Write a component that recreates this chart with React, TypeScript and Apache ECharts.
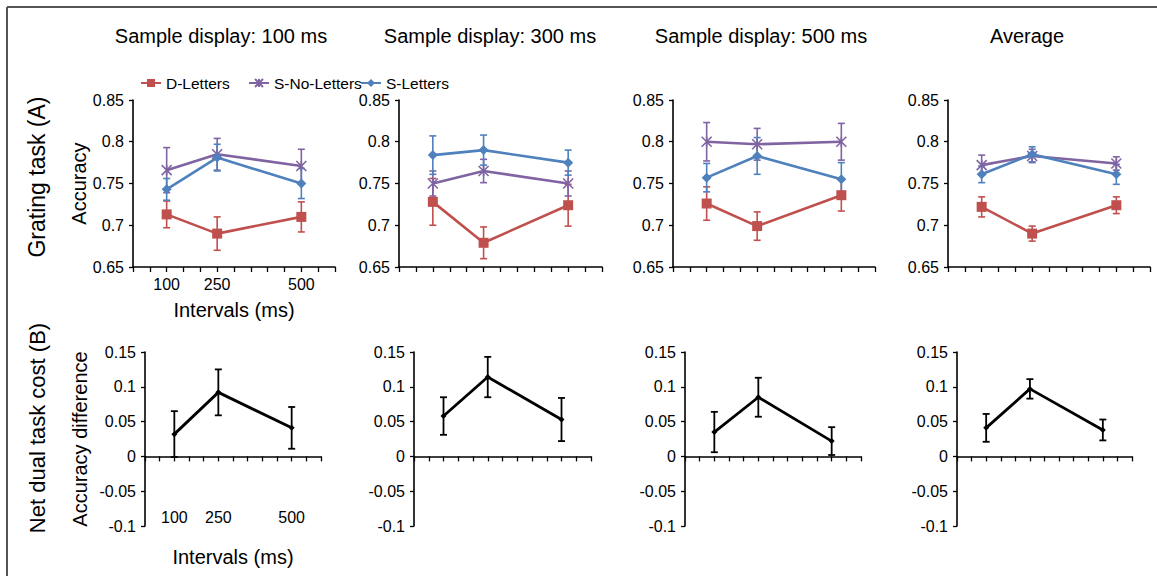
import React, { useEffect, useRef } from "react";
import * as echarts from "echarts";

const FONT = '"Liberation Sans", Arial, sans-serif';

// ---- data ----
const intervals = [100, 250, 500];
const panelTitles = ["Sample display: 100 ms", "Sample display: 300 ms", "Sample display: 500 ms", "Average"];
const seriesNames = ["D-Letters", "S-No-Letters", "S-Letters"];

// Grating task (A): accuracy means and errors per panel
const dLettersMean = [
  [0.713, 0.690, 0.710],
  [0.728, 0.679, 0.724],
  [0.726, 0.699, 0.736],
  [0.722, 0.690, 0.724],
];
const dLettersErr = [
  [0.016, 0.020, 0.018],
  [0.028, 0.019, 0.025],
  [0.020, 0.017, 0.019],
  [0.012, 0.009, 0.010],
];
const sNoLettersMean = [
  [0.766, 0.785, 0.771],
  [0.750, 0.765, 0.750],
  [0.800, 0.797, 0.800],
  [0.772, 0.783, 0.774],
];
const sNoLettersErr = [
  [0.027, 0.019, 0.020],
  [0.015, 0.014, 0.015],
  [0.023, 0.019, 0.022],
  [0.012, 0.008, 0.008],
];
const sLettersMean = [
  [0.743, 0.781, 0.750],
  [0.784, 0.790, 0.775],
  [0.757, 0.783, 0.755],
  [0.761, 0.785, 0.761],
];
const sLettersErr = [
  [0.013, 0.016, 0.018],
  [0.023, 0.018, 0.015],
  [0.017, 0.022, 0.020],
  [0.010, 0.009, 0.012],
];

// Net dual task cost (B): accuracy difference
const costMean = [
  [0.032, 0.092, 0.041],
  [0.058, 0.114, 0.053],
  [0.035, 0.085, 0.022],
  [0.041, 0.097, 0.038],
];
const costErr = [
  [0.033, 0.033, 0.030],
  [0.027, 0.029, 0.031],
  [0.029, 0.028, 0.020],
  [0.020, 0.014, 0.015],
];

const topYRange = [0.65, 0.85];
const botYRange = [-0.1, 0.15];
const yStep = 0.05;
const xRange = [0, 600];
const xStep = 50;

const RED = "#C0504D";
const PURPLE = "#8064A2";
const BLUE = "#4F81BD";
const BLACK = "#000000";

const STAR = "path://M0,0L10,10M10,0L0,10M5,0L5,10";

function errSeries(name: string, xi: number, means: number[], errs: number[], color: string, lw: number) {
  return {
    type: "custom",
    name,
    xAxisIndex: xi,
    yAxisIndex: xi,
    silent: true,
    z: 2,
    data: intervals.map((x, i) => [x, means[i] - errs[i], means[i] + errs[i]]),
    encode: { x: 0, y: [1, 2] },
    renderItem: (params: any, api: any) => {
      const x = api.value(0);
      const lo = api.coord([x, api.value(1)]);
      const hi = api.coord([x, api.value(2)]);
      const w = 3.5;
      const style = { stroke: color, lineWidth: lw };
      return {
        type: "group",
        children: [
          { type: "line", shape: { x1: lo[0], y1: lo[1], x2: hi[0], y2: hi[1] }, style },
          { type: "line", shape: { x1: lo[0] - w, y1: lo[1], x2: lo[0] + w, y2: lo[1] }, style },
          { type: "line", shape: { x1: hi[0] - w, y1: hi[1], x2: hi[0] + w, y2: hi[1] }, style },
        ],
      };
    },
  };
}

function lineSeries(name: string, xi: number, means: number[], color: string, symbol: string, size: number, width: number) {
  return {
    type: "line",
    name,
    xAxisIndex: xi,
    yAxisIndex: xi,
    z: 3,
    data: intervals.map((x, i) => [x, means[i]]),
    symbol,
    symbolSize: size,
    showSymbol: true,
    lineStyle: { color, width },
    itemStyle: { color, borderColor: color, borderWidth: symbol === STAR ? 1.6 : 0 },
    emphasis: { disabled: true },
  };
}

export default function App() {
  const ref = useRef<HTMLDivElement>(null);

  useEffect(() => {
    if (!ref.current) return;
    const chart = echarts.init(ref.current, undefined, { renderer: "svg" });

    const topGrids = [
      { left: 133, width: 202 },
      { left: 399, width: 203 },
      { left: 673, width: 202 },
      { left: 948, width: 202 },
    ];
    const botGrids = [
      { left: 145, width: 176 },
      { left: 414, width: 177 },
      { left: 685, width: 176 },
      { left: 957, width: 175 },
    ];
    const titleX = [221, 490, 761, 1027];

    const grid: any[] = [];
    const xAxis: any[] = [];
    const yAxis: any[] = [];
    const series: any[] = [];

    const axisLine = { show: true, onZero: true, lineStyle: { color: "#000", width: 1.6 } };
    const axisTick = { show: true, length: 5, lineStyle: { color: "#000", width: 1.3 } };
    const labelFmt = (v: number) => (intervals.includes(Math.round(v)) ? String(Math.round(v)) : "");

    for (let p = 0; p < 8; p++) {
      const isTop = p < 4;
      const col = p % 4;
      const g = isTop ? topGrids[col] : botGrids[col];
      grid.push({
        left: g.left,
        width: g.width,
        top: isTop ? 100 : 352,
        height: isTop ? 167 : 174,
        containLabel: false,
        outerBoundsMode: "none",
      });
      xAxis.push({
        type: "value",
        gridIndex: p,
        min: xRange[0],
        max: xRange[1],
        interval: xStep,
        axisLine,
        axisTick,
        splitLine: { show: false },
        axisLabel: {
          show: col === 0,
          formatter: labelFmt,
          fontSize: 16,
          color: "#000",
          fontFamily: FONT,
          margin: isTop ? 9 : -17,
          showMinLabel: true,
          showMaxLabel: true,
        },
        name: col === 0 ? "Intervals (ms)" : "",
        nameLocation: "middle",
        nameGap: isTop ? 33 : 21,
        nameTextStyle: { fontSize: 20, color: "#000", fontFamily: FONT },
      });
      const yr = isTop ? topYRange : botYRange;
      yAxis.push({
        type: "value",
        gridIndex: p,
        min: yr[0],
        max: yr[1],
        interval: yStep,
        axisLine: { show: true, lineStyle: { color: "#000", width: 1.6 } },
        axisTick: { show: true, length: 4, lineStyle: { color: "#000", width: 1.3 } },
        splitLine: { show: false },
        axisLabel: { fontSize: 16, color: "#000", fontFamily: FONT, margin: 9 },
        name: col === 0 ? (isTop ? "Accuracy" : "Accuracy difference") : "",
        nameLocation: "middle",
        nameRotate: 90,
        nameGap: isTop ? 43 : 55,
        nameTextStyle: { fontSize: 20, color: "#000", fontFamily: FONT },
      });

      if (isTop) {
        series.push(errSeries("err-d-" + col, p, dLettersMean[col], dLettersErr[col], RED, 1.6));
        series.push(errSeries("err-snl-" + col, p, sNoLettersMean[col], sNoLettersErr[col], PURPLE, 1.6));
        series.push(errSeries("err-sl-" + col, p, sLettersMean[col], sLettersErr[col], BLUE, 1.6));
        series.push(lineSeries(seriesNames[0], p, dLettersMean[col], RED, "rect", 10, 2.6));
        series.push(lineSeries(seriesNames[1], p, sNoLettersMean[col], PURPLE, STAR, 10, 2.6));
        series.push(lineSeries(seriesNames[2], p, sLettersMean[col], BLUE, "diamond", 10, 2.6));
      } else {
        series.push(errSeries("err-cost-" + col, p, costMean[col], costErr[col], BLACK, 1.8));
        series.push(lineSeries("Net cost " + col, p, costMean[col], BLACK, "diamond", 6, 2.8));
      }
    }

    const legendBase = {
      top: 75,
      padding: 0,
      itemWidth: 20,
      itemHeight: 10,
      textStyle: { fontSize: 15.5, color: "#000", fontFamily: FONT },
      selectedMode: false,
    };

    const graphic: any[] = [
      { type: "line", shape: { x1: 7, y1: 7, x2: 1157, y2: 7 }, style: { stroke: "#555", lineWidth: 2 } },
      { type: "line", shape: { x1: 7, y1: 7, x2: 7, y2: 576 }, style: { stroke: "#555", lineWidth: 2 } },
      ...panelTitles.map((t, i) => ({
        type: "text",
        x: titleX[i],
        y: 36,
        style: { text: t, align: "center", verticalAlign: "middle", fontSize: 20, fill: "#000", fontFamily: FONT },
      })),
      {
        type: "text",
        x: 37,
        y: 177,
        rotation: Math.PI / 2,
        style: { text: "Grating task (A)", align: "center", verticalAlign: "middle", fontSize: 23, fill: "#000", fontFamily: FONT },
      },
      {
        type: "text",
        x: 37,
        y: 428,
        rotation: Math.PI / 2,
        style: { text: "Net dual task cost (B)", align: "center", verticalAlign: "middle", fontSize: 22, fill: "#000", fontFamily: FONT },
      },
    ];

    chart.setOption({
      animation: false,
      backgroundColor: "#fff",
      textStyle: { fontFamily: FONT },
      grid,
      xAxis,
      yAxis,
      series,
      legend: [
        { ...legendBase, left: 140, data: [seriesNames[0]] },
        { ...legendBase, left: 248, data: [seriesNames[1]] },
        { ...legendBase, left: 360, data: [seriesNames[2]] },
      ],
      graphic,
    });

    return () => chart.dispose();
  }, []);

  return <div ref={ref} style={{ position: "absolute", left: 0, top: 0, width: 1157, height: 576 }} />;
}
